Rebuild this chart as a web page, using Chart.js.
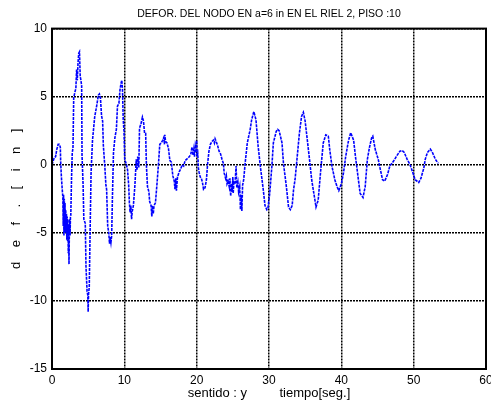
<!DOCTYPE html>
<html>
<head>
<meta charset="utf-8">
<script src="https://cdn.jsdelivr.net/npm/chart.js@4"></script>
<style>
html,body{margin:0;padding:0;background:#fff;}
#wrap{width:491px;height:407px;}
</style>
</head>
<body>
<div id="wrap"><canvas id="c" width="491" height="407"></canvas></div>
<script>
const chartTitle = 'DEFOR. DEL NODO EN a=6 in EN EL RIEL 2, PISO :10';
const xAxisLabel = 'sentido : y         tiempo[seg.]';
const yAxisLabel = 'd    e    f    .    [    i    n    ]';
const xTicks = [0, 10, 20, 30, 40, 50, 60];
const yTicks = [-15, -10, -5, 0, 5, 10];

const timeSec = [
 0.00,0.30,0.50,0.65,0.85,1.00,1.15,1.20,1.30,1.40,1.50,
 1.55,1.60,1.65,1.70,1.75,1.80,1.85,1.90,1.95,2.00,2.05,2.10,2.15,2.20,2.25,2.30,2.35,2.40,2.45,2.50,2.55,2.60,
 2.70,2.80,2.90,3.00,3.15,3.30,3.40,3.50,3.60,3.70,3.80,3.90,4.00,4.10,4.15,4.30,4.40,4.60,4.70,4.85,4.95,5.00,5.05,5.15,5.25,5.40,5.60,5.90,6.20,
 6.40,6.55,6.70,6.85,7.00,7.10,7.30,7.45,7.55,7.70,7.85,7.95,8.05,8.15,8.25,8.35,8.50,8.70,8.90,9.05,9.25,9.40,9.55,9.65,9.75,9.85,9.95,10.05,
 10.30,10.45,10.60,10.70,10.80,10.90,11.00,11.10,11.25,11.45,11.65,11.75,11.85,12.00,12.10,12.30,12.50,12.65,12.80,12.95,13.05,13.20,13.40,13.50,13.70,13.80,13.90,14.00,14.10,14.30,14.50,14.70,14.90,
 15.10,15.30,15.45,15.55,15.60,15.70,15.90,16.10,16.30,16.50,16.70,16.90,17.00,17.10,17.20,17.35,17.60,17.80,18.00,18.20,18.40,18.60,18.80,19.00,19.20,19.35,19.50,19.60,19.70,19.80,19.90,20.00,
 20.05,20.15,20.25,20.35,20.50,20.65,20.80,20.95,21.15,21.35,21.50,21.70,21.90,22.10,22.30,22.45,22.55,22.70,22.90,23.10,23.30,23.50,23.70,23.80,24.00,24.10,24.20,24.35,24.50,24.60,24.70,24.80,24.90,25.00,
 25.05,25.15,25.30,25.45,25.55,25.70,25.80,25.95,26.05,26.15,26.25,26.35,26.50,26.70,27.00,27.40,27.60,27.90,28.20,28.50,28.80,29.20,29.45,29.70,29.85,30.10,30.40,30.60,31.00,31.20,31.40,31.80,
 32.00,32.40,32.70,32.95,33.20,33.40,33.60,33.90,34.20,34.50,34.75,35.00,35.30,35.60,35.90,36.20,36.50,36.80,37.20,37.50,37.85,38.20,38.40,38.70,39.10,39.40,39.65,40.00,
 40.30,40.60,41.00,41.30,41.70,42.00,42.30,42.60,43.00,43.30,43.60,43.90,44.20,44.35,44.70,45.10,45.40,45.70,46.00,46.40,46.70,47.20,47.60,48.10,48.40,48.70,49.10,49.50,49.90,
 50.20,50.70,51.00,51.40,51.60,51.90,52.30,52.60,53.00,53.40
];
const deflection = [
 0.0,0.5,0.6,1.1,1.5,1.5,1.3,0.2,-0.9,-1.7,-2.4,
 -4.5,-2.2,-5.2,-2.5,-4.0,-2.8,-5.0,-3.3,-4.8,-3.6,-5.5,-3.8,-5.6,-4.0,-6.5,-4.5,-7.3,-5.0,-4.0,-5.2,-3.8,-3.7,
 -1.0,0.9,1.2,4.9,5.3,5.6,7.0,6.2,7.5,8.2,8.3,6.5,6.2,5.8,0.7,-1.5,-4.0,-4.3,-7.5,-9.3,-9.6,-10.8,-9.5,-9.0,-5.5,-0.6,1.8,3.5,4.4,
 5.1,5.2,4.9,3.6,3.2,1.4,-0.1,-1.5,-1.8,-4.5,-5.0,-5.8,-5.3,-5.7,-5.2,-2.5,0.9,2.0,2.6,4.3,4.5,5.5,6.0,6.2,5.5,3.3,2.5,0.4,
 0.0,-0.4,-1.5,-2.8,-3.5,-3.0,-4.0,-3.4,-3.0,-1.6,0.4,-0.4,0.6,-0.2,2.7,3.0,3.5,3.2,2.3,2.3,0.0,-1.6,-2.0,-2.7,-3.0,-3.8,-3.0,-3.6,-3.0,-2.8,-1.5,-0.1,1.5,
 1.6,1.8,2.0,1.5,2.2,1.7,1.6,1.2,0.3,0.2,-0.8,-1.2,-1.8,-1.0,-1.9,-0.9,-0.5,-0.3,0.0,-0.1,0.3,0.4,0.5,0.6,0.8,1.3,0.7,1.1,0.6,1.3,0.9,1.8,
 0.6,0.8,-0.3,-0.6,-0.9,-1.0,-1.3,-1.8,-1.7,-1.1,0.0,1.0,1.5,1.7,1.8,1.6,1.9,1.7,1.4,1.0,0.8,0.4,0.1,-0.6,-1.0,-0.8,-1.4,-1.2,-1.6,-1.0,-2.3,-1.4,-2.0,-0.9,
 -2.1,-1.3,-1.4,-0.1,-1.7,-1.3,-2.0,-1.6,-3.3,-2.2,-3.4,-1.5,-1.1,0.1,1.6,2.6,3.3,3.9,3.3,1.35,-0.1,-1.8,-3.0,-3.3,-3.2,-2.1,-0.1,1.6,2.45,2.6,2.5,1.6,
 0.1,-1.6,-3.1,-3.3,-3.0,-1.8,-1.1,0.6,2.3,3.55,3.85,3.2,1.8,0.4,-1.1,-2.1,-3.1,-2.6,-0.1,1.6,2.2,2.1,1.1,-0.1,-1.1,-1.6,-1.9,-1.4,
 -0.6,0.6,1.8,2.35,1.8,0.4,-0.85,-2.1,-2.4,-1.6,0.4,1.3,2.0,2.1,1.1,0.4,-0.37,-1.1,-1.2,-0.7,-0.1,0.25,0.6,1.0,1.05,0.9,0.4,0.0,-0.6,
 -1.1,-1.3,-1.0,-0.25,0.4,0.9,1.15,0.9,0.4,0.1
];

const points = timeSec.map((t, i) => ({x: t, y: deflection[i]}));
const FAMILY = '"Liberation Sans", Arial, sans-serif';
const TICK_FONT = {family: FAMILY, size: 12};
const LABEL_FONT = {family: FAMILY, size: 13};

const frame = {
  id: 'frame',
  afterDatasetsDraw(chart) {
    const a = chart.chartArea, ctx = chart.ctx;
    ctx.save();
    ctx.strokeStyle = '#000';
    ctx.lineWidth = 2;
    ctx.setLineDash([]);
    ctx.strokeRect(a.left, a.top, a.right - a.left, a.bottom - a.top);
    ctx.restore();
  }
};

new Chart(document.getElementById('c'), {
  type: 'line',
  data: {
    datasets: [{
      data: points,
      borderColor: '#0000ff',
      borderWidth: 1.6,
      borderDash: [3, 1],
      pointRadius: 0,
      tension: 0,
      fill: false
    }]
  },
  options: {
    responsive: false,
    animation: false,
    devicePixelRatio: 1,
    layout: {padding: {left: 0, right: 5, top: 0, bottom: 0}},
    plugins: {
      legend: {display: false},
      tooltip: {enabled: false},
      title: {
        display: true,
        text: chartTitle,
        color: '#000',
        font: {family: FAMILY, size: 10.5, weight: 'normal'},
        fullSize: false,
        padding: {top: 8, bottom: 8}
      }
    },
    scales: {
      x: {
        type: 'linear',
        min: 0, max: 60,
        afterBuildTicks(s) { s.ticks = xTicks.map(v => ({value: v})); },
        afterFit(s) { s.height = 38; s.paddingLeft = 0; s.paddingRight = 0; },
        ticks: {color: '#000', font: TICK_FONT, padding: 4, maxRotation: 0, autoSkip: false},
        grid: {color: '#000', lineWidth: 1.5, drawTicks: false},
        border: {display: true, color: '#000', width: 2, dash: [2, 1]},
        title: {display: true, text: xAxisLabel, color: '#000', font: LABEL_FONT, padding: {top: 0, bottom: 6}}
      },
      y: {
        type: 'linear',
        min: -15, max: 10,
        afterBuildTicks(s) { s.ticks = yTicks.map(v => ({value: v})); },
        afterFit(s) { s.width = 52; },
        ticks: {color: '#000', font: TICK_FONT, padding: 5, autoSkip: false},
        grid: {color: '#000', lineWidth: 1.5, drawTicks: false},
        border: {display: true, color: '#000', width: 2, dash: [2, 1]},
        title: {display: true, text: yAxisLabel, color: '#000', font: LABEL_FONT, padding: {top: 9, bottom: 0}}
      }
    }
  },
  plugins: [frame]
});
</script>
</body>
</html>
